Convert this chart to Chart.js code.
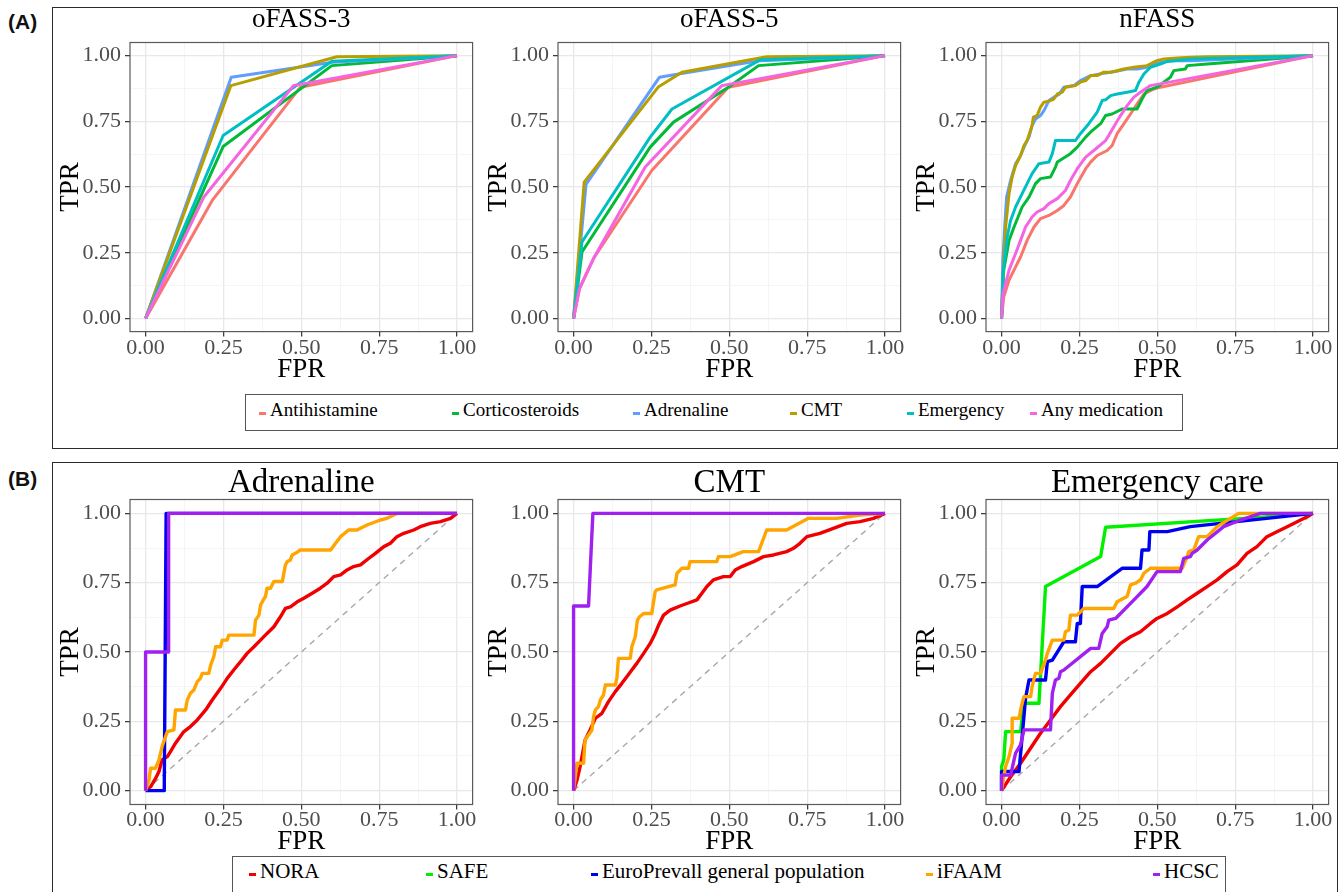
<!DOCTYPE html>
<html>
<head>
<meta charset="utf-8">
<script src="https://cdn.jsdelivr.net/npm/chart.js@4.4.1/dist/chart.umd.min.js"></script>
<style>
  body { margin: 0; background: #fff; font-family: "Times New Roman", "Liberation Serif", "DejaVu Serif", serif; }
  #page { position: relative; width: 1344px; height: 892px; overflow: hidden; background: #fff; }
  .frame { position: absolute; border: 1.5px solid #2b2b2b; box-sizing: border-box; }
  .tag { position: absolute; font-family: "Liberation Sans", Arial, sans-serif; font-weight: bold; font-size: 21px; color: #111; }
  canvas { position: absolute; }
  .legend { position: absolute; border: 1px solid #555; box-sizing: border-box; background: #fff; }
  .item { position: absolute; white-space: nowrap; color: #000; font-family: "Times New Roman", "Liberation Serif", serif; line-height: 1.2; }
  .key { position: absolute; width: 7px; height: 3px; }
</style>
</head>
<body>
<div id="page">
  <div class="frame" style="left:52px;top:7px;width:1286px;height:442px"></div>
  <div class="frame" style="left:52px;top:462px;width:1286px;height:440px"></div>
  <div class="tag" style="left:8px;top:10px">(A)</div>
  <div class="tag" style="left:8px;top:467px">(B)</div>
  <div class="legend" id="legendTop" style="left:245px;top:394px;width:938px;height:37px"></div>
  <div class="legend" id="legendBottom" style="left:232px;top:856px;width:994px;height:40px"></div>
</div>
<script>
// ---- series names / colours ----
const topSeries = ['Antihistamine', 'Corticosteroids', 'Adrenaline', 'CMT', 'Emergency', 'Any medication'];
const topColors = ['#F8766D', '#00BA38', '#619CFF', '#B79F00', '#00BFC4', '#F564E3'];
const bottomSeries = ['NORA', 'SAFE', 'EuroPrevall general population', 'iFAAM', 'HCSC'];
const bottomColors = ['#F00000', '#00F000', '#0000F0', '#FFA500', '#A020F0'];
const tickValues = [0, 0.25, 0.5, 0.75, 1];
const gridValues = [0, 0.125, 0.25, 0.375, 0.5, 0.625, 0.75, 0.875, 1];
const chanceLine = [[0, 0], [1, 1]];

// ---- (A) oFASS-3 : [FPR, TPR] ----
const f3Antihistamine = [[0, 0], [0.214, 0.449], [0.497, 0.880], [1, 1]];
const f3Corticosteroids = [[0, 0], [0.249, 0.654], [0.598, 0.962], [1, 1]];
const f3Adrenaline = [[0, 0], [0.275, 0.918], [0.6, 0.975], [1, 1]];
const f3CMT = [[0, 0], [0.274, 0.886], [0.614, 0.996], [1, 1]];
const f3Emergency = [[0, 0], [0.249, 0.696], [0.598, 0.979], [1, 1]];
const f3AnyMed = [[0, 0], [0.187, 0.462], [0.475, 0.886], [1, 1]];

// ---- (A) oFASS-5 ----
const f5Antihistamine = [[0, 0], [0.019, 0.114], [0.064, 0.228], [0.251, 0.563], [0.497, 0.880], [1, 1]];
const f5Corticosteroids = [[0, 0], [0.027, 0.253], [0.246, 0.652], [0.321, 0.747], [0.497, 0.880], [0.594, 0.962], [1, 1]];
const f5Adrenaline = [[0, 0], [0.040, 0.510], [0.276, 0.918], [0.337, 0.930], [0.599, 0.981], [1, 1]];
const f5CMT = [[0, 0], [0.034, 0.519], [0.273, 0.882], [0.348, 0.937], [0.620, 0.996], [1, 1]];
const f5Emergency = [[0, 0], [0.027, 0.291], [0.246, 0.690], [0.316, 0.797], [0.599, 0.984], [1, 1]];
const f5AnyMed = [[0, 0], [0.019, 0.114], [0.064, 0.228], [0.230, 0.576], [0.476, 0.886], [1, 1]];

// ---- (A) nFASS ----
const nAntihistamine = [[0, 0], [0.007, 0.082], [0.024, 0.146], [0.045, 0.196], [0.061, 0.234], [0.082, 0.297], [0.104, 0.348], [0.125, 0.380], [0.152, 0.392], [0.179, 0.411], [0.200, 0.430], [0.221, 0.462], [0.243, 0.513], [0.270, 0.570], [0.286, 0.595], [0.307, 0.620], [0.339, 0.639], [0.355, 0.658], [0.371, 0.703], [0.393, 0.741], [0.414, 0.778], [0.435, 0.816], [0.457, 0.854], [0.489, 0.873], [0.510, 0.880], [1, 1]];
const nCorticosteroids = [[0, 0], [0.007, 0.184], [0.024, 0.297], [0.040, 0.348], [0.066, 0.424], [0.088, 0.462], [0.109, 0.513], [0.125, 0.532], [0.157, 0.538], [0.173, 0.576], [0.179, 0.595], [0.221, 0.627], [0.243, 0.652], [0.270, 0.690], [0.291, 0.715], [0.318, 0.741], [0.334, 0.772], [0.355, 0.778], [0.387, 0.797], [0.435, 0.797], [0.451, 0.835], [0.467, 0.867], [0.499, 0.880], [0.521, 0.899], [0.542, 0.918], [0.553, 0.943], [0.590, 0.949], [0.596, 0.962], [0.660, 0.968], [1, 1]];
const nAdrenaline = [[0, 0], [0.004, 0.222], [0.010, 0.348], [0.016, 0.462], [0.029, 0.525], [0.045, 0.589], [0.061, 0.620], [0.077, 0.665], [0.088, 0.690], [0.098, 0.734], [0.109, 0.759], [0.125, 0.772], [0.136, 0.791], [0.152, 0.829], [0.168, 0.842], [0.184, 0.852], [0.200, 0.880], [0.232, 0.886], [0.253, 0.905], [0.286, 0.924], [0.328, 0.933], [0.371, 0.941], [0.403, 0.949], [0.435, 0.949], [0.467, 0.956], [0.499, 0.971], [0.542, 0.981], [0.606, 0.981], [1, 1]];
const nCMT = [[0, 0], [0.005, 0.171], [0.013, 0.348], [0.024, 0.475], [0.034, 0.538], [0.045, 0.582], [0.061, 0.620], [0.072, 0.658], [0.082, 0.677], [0.098, 0.734], [0.102, 0.766], [0.114, 0.772], [0.125, 0.804], [0.136, 0.823], [0.152, 0.827], [0.168, 0.835], [0.179, 0.854], [0.195, 0.861], [0.205, 0.880], [0.237, 0.886], [0.253, 0.899], [0.270, 0.905], [0.286, 0.924], [0.307, 0.924], [0.328, 0.937], [0.350, 0.937], [0.393, 0.949], [0.425, 0.956], [0.467, 0.962], [0.499, 0.981], [0.521, 0.987], [0.564, 0.991], [0.606, 0.994], [0.660, 0.996], [1, 1]];
const nEmergency = [[0, 0], [0.005, 0.171], [0.018, 0.310], [0.029, 0.373], [0.045, 0.424], [0.066, 0.475], [0.082, 0.513], [0.098, 0.551], [0.120, 0.589], [0.152, 0.595], [0.163, 0.627], [0.173, 0.677], [0.237, 0.677], [0.253, 0.703], [0.280, 0.741], [0.307, 0.785], [0.323, 0.829], [0.334, 0.832], [0.350, 0.848], [0.371, 0.854], [0.403, 0.861], [0.430, 0.867], [0.441, 0.899], [0.457, 0.930], [0.478, 0.956], [0.510, 0.968], [0.532, 0.978], [0.606, 0.987], [1, 1]];
const nAnyMed = [[0, 0], [0.005, 0.095], [0.024, 0.184], [0.045, 0.247], [0.061, 0.297], [0.077, 0.348], [0.098, 0.386], [0.114, 0.405], [0.136, 0.418], [0.152, 0.437], [0.179, 0.456], [0.205, 0.487], [0.221, 0.525], [0.243, 0.570], [0.270, 0.614], [0.296, 0.639], [0.334, 0.677], [0.344, 0.696], [0.366, 0.741], [0.382, 0.772], [0.403, 0.810], [0.425, 0.842], [0.446, 0.861], [0.478, 0.886], [1, 1]];

// ---- (B) Adrenaline ----
const adrNORA = [[0, 0], [0.016, 0.014], [0.032, 0.044], [0.043, 0.069], [0.053, 0.111], [0.070, 0.123], [0.080, 0.141], [0.096, 0.171], [0.123, 0.213], [0.144, 0.231], [0.166, 0.255], [0.193, 0.291], [0.214, 0.327], [0.241, 0.369], [0.262, 0.405], [0.283, 0.435], [0.305, 0.465], [0.326, 0.495], [0.348, 0.519], [0.369, 0.543], [0.390, 0.567], [0.412, 0.591], [0.433, 0.627], [0.449, 0.657], [0.465, 0.663], [0.487, 0.681], [0.508, 0.694], [0.535, 0.712], [0.561, 0.730], [0.583, 0.748], [0.604, 0.772], [0.626, 0.778], [0.647, 0.796], [0.668, 0.808], [0.690, 0.814], [0.717, 0.838], [0.738, 0.856], [0.765, 0.880], [0.786, 0.892], [0.807, 0.916], [0.829, 0.928], [0.861, 0.940], [0.882, 0.952], [0.914, 0.964], [0.947, 0.970], [0.979, 0.982], [1, 1]];
const adrEuro = [[0, 0], [0.06, 0], [0.066, 1], [1, 1]];
const adrIFAAM = [[0, 0], [0.011, 0.038], [0.016, 0.081], [0.032, 0.081], [0.043, 0.111], [0.053, 0.159], [0.070, 0.213], [0.091, 0.219], [0.096, 0.291], [0.128, 0.291], [0.134, 0.327], [0.144, 0.351], [0.155, 0.363], [0.166, 0.393], [0.176, 0.405], [0.182, 0.423], [0.203, 0.423], [0.209, 0.453], [0.219, 0.483], [0.225, 0.519], [0.241, 0.519], [0.246, 0.543], [0.262, 0.543], [0.267, 0.561], [0.348, 0.561], [0.353, 0.615], [0.364, 0.633], [0.369, 0.669], [0.378, 0.688], [0.385, 0.700], [0.390, 0.730], [0.401, 0.730], [0.412, 0.754], [0.439, 0.754], [0.449, 0.814], [0.455, 0.826], [0.465, 0.832], [0.471, 0.850], [0.481, 0.856], [0.497, 0.868], [0.594, 0.868], [0.610, 0.892], [0.626, 0.916], [0.652, 0.940], [0.679, 0.940], [0.711, 0.958], [0.754, 0.976], [0.775, 0.982], [0.807, 1], [1, 1]];
const adrHCSC = [[0, 0], [0, 0.5], [0.074, 0.5], [0.074, 1], [1, 1]];

// ---- (B) CMT ----
const cmtNORA = [[0, 0], [0.011, 0.038], [0.021, 0.087], [0.037, 0.183], [0.053, 0.219], [0.070, 0.261], [0.091, 0.279], [0.112, 0.321], [0.134, 0.357], [0.155, 0.387], [0.171, 0.411], [0.187, 0.435], [0.203, 0.459], [0.225, 0.495], [0.246, 0.531], [0.262, 0.567], [0.273, 0.597], [0.289, 0.633], [0.310, 0.651], [0.342, 0.666], [0.364, 0.675], [0.396, 0.688], [0.412, 0.712], [0.428, 0.736], [0.449, 0.760], [0.481, 0.772], [0.503, 0.772], [0.519, 0.796], [0.540, 0.808], [0.578, 0.826], [0.610, 0.844], [0.642, 0.850], [0.684, 0.862], [0.706, 0.874], [0.727, 0.892], [0.749, 0.916], [0.791, 0.928], [0.834, 0.946], [0.877, 0.964], [0.920, 0.970], [0.963, 0.982], [1, 1]];
const cmtIFAAM = [[0, 0], [0.011, 0.099], [0.032, 0.099], [0.037, 0.183], [0.059, 0.219], [0.064, 0.267], [0.070, 0.291], [0.080, 0.303], [0.086, 0.327], [0.096, 0.345], [0.102, 0.381], [0.134, 0.381], [0.139, 0.405], [0.144, 0.477], [0.182, 0.477], [0.187, 0.519], [0.198, 0.555], [0.205, 0.615], [0.212, 0.627], [0.225, 0.639], [0.251, 0.639], [0.262, 0.718], [0.267, 0.724], [0.326, 0.742], [0.332, 0.784], [0.348, 0.802], [0.369, 0.802], [0.374, 0.826], [0.460, 0.826], [0.465, 0.844], [0.503, 0.844], [0.545, 0.862], [0.594, 0.862], [0.620, 0.940], [0.684, 0.940], [0.754, 0.982], [0.845, 0.982], [0.920, 0.994], [1, 1]];
const cmtHCSC = [[0, 0], [0, 0.666], [0.048, 0.666], [0.062, 1], [1, 1]];

// ---- (B) Emergency care ----
const emNORA = [[0, 0], [0.029, 0.050], [0.061, 0.099], [0.093, 0.153], [0.125, 0.207], [0.157, 0.255], [0.189, 0.303], [0.221, 0.345], [0.253, 0.387], [0.286, 0.429], [0.318, 0.459], [0.350, 0.495], [0.382, 0.531], [0.414, 0.555], [0.446, 0.573], [0.478, 0.603], [0.499, 0.621], [0.532, 0.639], [0.564, 0.663], [0.596, 0.688], [0.628, 0.712], [0.660, 0.736], [0.692, 0.760], [0.724, 0.790], [0.756, 0.814], [0.788, 0.856], [0.820, 0.880], [0.852, 0.916], [0.884, 0.934], [0.917, 0.952], [0.949, 0.970], [0.981, 0.988], [1, 1]];
const emSAFE = [[0, 0], [0, 0.087], [0.007, 0.111], [0.013, 0.213], [0.061, 0.213], [0.072, 0.315], [0.120, 0.315], [0.141, 0.736], [0.318, 0.844], [0.334, 0.950], [0.778, 0.982], [1, 1]];
const emEuro = [[0, 0], [0, 0.069], [0.056, 0.069], [0.077, 0.333], [0.088, 0.399], [0.141, 0.399], [0.147, 0.465], [0.163, 0.471], [0.200, 0.537], [0.237, 0.537], [0.243, 0.603], [0.253, 0.603], [0.259, 0.736], [0.307, 0.736], [0.387, 0.802], [0.446, 0.802], [0.451, 0.868], [0.473, 0.868], [0.476, 0.934], [0.532, 0.934], [0.606, 0.952], [1, 1]];
const emIFAAM = [[0, 0], [0.007, 0.050], [0.013, 0.087], [0.024, 0.123], [0.034, 0.171], [0.034, 0.261], [0.056, 0.261], [0.061, 0.291], [0.066, 0.315], [0.072, 0.339], [0.093, 0.339], [0.098, 0.375], [0.109, 0.423], [0.125, 0.423], [0.141, 0.471], [0.147, 0.495], [0.163, 0.543], [0.200, 0.543], [0.205, 0.573], [0.216, 0.579], [0.221, 0.633], [0.243, 0.633], [0.264, 0.657], [0.360, 0.657], [0.371, 0.681], [0.382, 0.688], [0.403, 0.700], [0.414, 0.742], [0.430, 0.748], [0.446, 0.760], [0.457, 0.784], [0.478, 0.802], [0.580, 0.802], [0.596, 0.844], [0.601, 0.862], [0.617, 0.868], [0.633, 0.916], [0.660, 0.916], [0.692, 0.952], [0.761, 1], [1, 1]];
const emHCSC = [[0, 0], [0, 0.056], [0.029, 0.056], [0.045, 0.135], [0.061, 0.165], [0.072, 0.219], [0.157, 0.219], [0.163, 0.351], [0.173, 0.399], [0.184, 0.405], [0.189, 0.429], [0.200, 0.435], [0.286, 0.513], [0.312, 0.513], [0.323, 0.567], [0.339, 0.591], [0.344, 0.615], [0.366, 0.621], [0.425, 0.688], [0.467, 0.736], [0.499, 0.790], [0.574, 0.790], [0.585, 0.838], [0.606, 0.844], [0.612, 0.856], [0.628, 0.868], [0.660, 0.904], [0.713, 0.952], [0.767, 0.976], [0.831, 1], [1, 1]];

Chart.defaults.font.family = "'Liberation Serif', 'Times New Roman', serif";
Chart.defaults.animation = false;

const isMajor = v => tickValues.some(t => Math.abs(t - v) < 1e-6);

// ggplot-style full panel border
const panelBorder = {
  id: 'panelBorder',
  afterDatasetsDraw(chart) {
    const { ctx, chartArea: a } = chart;
    ctx.save();
    ctx.strokeStyle = '#5a5a5a';
    ctx.lineWidth = 1.2;
    ctx.strokeRect(a.left, a.top, a.right - a.left, a.bottom - a.top);
    ctx.restore();
  }
};

function makeAxis(isX, cfg) {
  return {
    type: 'linear',
    position: isX ? 'bottom' : 'left',
    min: -0.05,
    max: 1.05,
    afterBuildTicks: s => { s.ticks = gridValues.map(v => ({ value: v })); },
    afterFit: s => { if (isX) s.height = cfg.xHeight; else s.width = cfg.yWidth; },
    border: { display: false },
    grid: {
      color: c => (c.tick && isMajor(c.tick.value)) ? '#E8E8E8' : '#F3F3F3',
      lineWidth: c => (c.tick && isMajor(c.tick.value)) ? 1.3 : 0.8,
      tickColor: c => (c.tick && isMajor(c.tick.value)) ? '#333333' : 'rgba(0,0,0,0)',
      tickWidth: 1.2,
      tickLength: 5
    },
    ticks: {
      autoSkip: false,
      maxRotation: 0,
      minRotation: 0,
      padding: isX ? cfg.xPad : 4,
      color: '#4D4D4D',
      font: { size: cfg.tickSize },
      callback: v => isMajor(v) ? v.toFixed(2) : ''
    },
    title: {
      display: true,
      text: isX ? 'FPR' : 'TPR',
      color: '#000',
      font: { size: 27, lineHeight: 1 },
      padding: 0
    }
  };
}

function makePanel(left, top, title, series, names, colors, cfg) {
  const canvas = document.createElement('canvas');
  canvas.width = cfg.width;
  canvas.height = cfg.height;
  canvas.style.left = left + 'px';
  canvas.style.top = top + 'px';
  document.getElementById('page').appendChild(canvas);

  const datasets = [];
  series.forEach((pts, i) => {
    if (!pts) return;
    datasets.push({
      label: names[i],
      data: pts.map(p => ({ x: p[0], y: p[1] })),
      borderColor: colors[i],
      backgroundColor: colors[i],
      borderWidth: cfg.lineWidth,
      borderJoinStyle: 'round',
      showLine: true,
      pointRadius: 0,
      tension: 0,
      order: series.length - i
    });
  });
  if (cfg.diagonal) {
    datasets.push({
      label: 'chance',
      data: chanceLine.map(p => ({ x: p[0], y: p[1] })),
      borderColor: '#A8A8A8',
      borderWidth: 1.4,
      borderDash: [6, 5],
      showLine: true,
      pointRadius: 0,
      order: 99
    });
  }

  new Chart(canvas, {
    type: 'scatter',
    data: { datasets },
    options: {
      responsive: false,
      layout: { padding: cfg.padding },
      scales: { x: makeAxis(true, cfg), y: makeAxis(false, cfg) },
      plugins: {
        legend: { display: false },
        tooltip: { enabled: false },
        title: {
          display: true,
          text: title,
          fullSize: false,
          color: '#000',
          font: { size: cfg.titleSize, weight: 'normal', lineHeight: 1 },
          padding: { top: 0, bottom: cfg.titleGap }
        }
      }
    },
    plugins: [panelBorder]
  });
}

const topCfg = {
  width: 445, height: 390, lineWidth: 3, tickSize: 22, xPad: -2, titleSize: 27, titleGap: 9,
  padding: { left: 2.5, right: 27.4, top: 6.5, bottom: 6.5 }, yWidth: 72.5, xHeight: 51.9
};
const bottomCfg = {
  width: 445, height: 394, lineWidth: 3.4, tickSize: 22, xPad: -2, titleSize: 33, titleGap: 0, diagonal: true,
  padding: { left: 2.5, right: 27.4, top: 4.5, bottom: 0.5 }, yWidth: 72.5, xHeight: 51
};

const panelLefts = [130, 558, 986];

makePanel(panelLefts[0] - 75, 0, 'oFASS-3', [f3Antihistamine, f3Corticosteroids, f3Adrenaline, f3CMT, f3Emergency, f3AnyMed], topSeries, topColors, topCfg);
makePanel(panelLefts[1] - 75, 0, 'oFASS-5', [f5Antihistamine, f5Corticosteroids, f5Adrenaline, f5CMT, f5Emergency, f5AnyMed], topSeries, topColors, topCfg);
makePanel(panelLefts[2] - 75, 0, 'nFASS', [nAntihistamine, nCorticosteroids, nAdrenaline, nCMT, nEmergency, nAnyMed], topSeries, topColors, topCfg);

makePanel(panelLefts[0] - 75, 462, 'Adrenaline', [adrNORA, null, adrEuro, adrIFAAM, adrHCSC], bottomSeries, bottomColors, bottomCfg);
makePanel(panelLefts[1] - 75, 462, 'CMT', [cmtNORA, null, null, cmtIFAAM, cmtHCSC], bottomSeries, bottomColors, bottomCfg);
makePanel(panelLefts[2] - 75, 462, 'Emergency care', [emNORA, emSAFE, emEuro, emIFAAM, emHCSC], bottomSeries, bottomColors, bottomCfg);

// legends
function buildLegend(id, names, colors, textLefts, fontSize, keyTop, textTop) {
  const box = document.getElementById(id);
  names.forEach((name, i) => {
    const key = document.createElement('div');
    key.className = 'key';
    key.style.background = colors[i];
    key.style.left = (textLefts[i] - 11) + 'px';
    key.style.top = keyTop + 'px';
    box.appendChild(key);
    const t = document.createElement('div');
    t.className = 'item';
    t.textContent = name;
    t.style.left = textLefts[i] + 'px';
    t.style.top = textTop + 'px';
    t.style.fontSize = fontSize + 'px';
    box.appendChild(t);
  });
}
buildLegend('legendTop', topSeries, topColors, [24, 217, 398, 555, 672, 795], 19, 17, 4);
buildLegend('legendBottom', bottomSeries, bottomColors, [27, 204, 369, 704, 931], 21, 16, 2);
</script>
</body>
</html>
